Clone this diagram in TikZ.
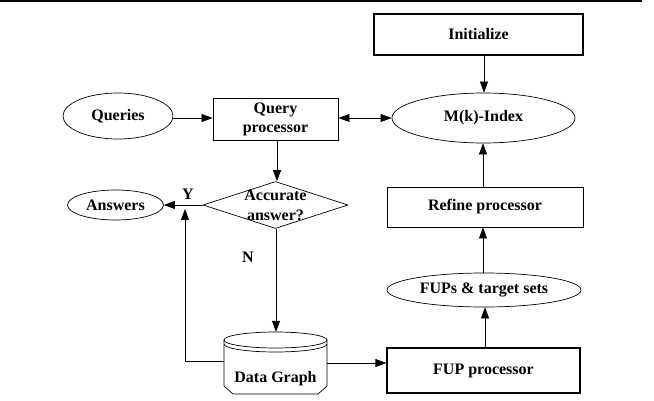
\documentclass[tikz,border=0pt]{standalone}
\usepackage{fontspec}
\setmainfont{Liberation Serif}
\usetikzlibrary{shapes.geometric,arrows.meta}
\begin{document}
\begin{tikzpicture}[x=1pt,y=1pt,
  every node/.style={font=\fontsize{16}{19}\selectfont\bfseries, inner sep=0pt},
  boxn/.style={draw, line width=0.9pt, rectangle},
  ovaln/.style={draw, line width=0.7pt, ellipse},
  arr/.style={line width=0.7pt, -{Triangle[length=11pt,width=8pt]}},
  darr/.style={line width=0.7pt, {Triangle[length=11pt,width=8pt]}-{Triangle[length=11pt,width=8pt]}},
  plain/.style={line width=0.7pt}]
\useasboundingbox (0,0) rectangle (654,400);
% top rule
\coordinate (tl) at (0,398.8);
\coordinate (tr) at (642,398.8);
\draw[line width=2pt] (tl) -- (tr);
% nodes
\node[boxn, line width=1.2pt, minimum width=209pt, minimum height=41pt] (init) at (478.5,365.5) {Initialize};
\node[ovaln, minimum width=183pt, minimum height=50pt] (mk) at (483.5,282) {M(k)-Index};
\node[ovaln, minimum width=110pt, minimum height=46pt] (queries) at (118,284) {Queries};
\node[boxn, minimum width=125pt, minimum height=42pt, align=center] (qp) at (275.5,281) {Query\\processor};
\node[draw, line width=0.7pt, diamond, minimum width=145pt, minimum height=47pt,
  label={[align=center, font=\fontsize{16}{20}\selectfont\bfseries]center:Accurate\\answer?}] (acc) at (275.5,195) {};
\node[ovaln, minimum width=96pt, minimum height=30pt] (ans) at (115.5,195) {Answers};
\node (ylab) at (188,206) {Y};
\node (nlab) at (248,143) {N};
\node[boxn, minimum width=196pt, minimum height=40pt] (refine) at (485,193) {Refine processor};
\node[ovaln, minimum width=194pt, minimum height=34pt] (fups) at (484,110) {FUPs \& target sets};
\node[boxn, line width=1.2pt, minimum width=193pt, minimum height=45pt] (fup) at (483.5,29.5) {FUP processor};
% data graph cylinder
\node[minimum width=103pt, minimum height=62pt] (dg) at (275.5,37) {};
\draw[plain] (224,60) -- (224,14) -- (233,6) -- (318,6) -- (327,14) -- (327,60);
\draw[plain] (275.5,60) ellipse[x radius=51.5pt, y radius=8pt];
\draw[plain] (224,56) arc[start angle=180, end angle=360, x radius=51.5pt, y radius=8pt];
\node (dgtext) at (275.5,21) {Data Graph};
% connectors
\draw[arr] (init.south -| 484,0) -- (mk.north -| 484,0);
\draw[arr] (queries.east |- 0,282) -- (qp.west |- 0,282);
\draw[darr] (qp.east |- 0,282) -- (mk.west |- 0,282);
\draw[arr] (qp.south -| 277,0) -- (acc.north -| 277,0);
\draw[arr] (acc.west) -- (ans.east);
\draw[arr] (acc.south -| 276,0) -- (dg.north -| 276,0);
\coordinate (yj) at (185,191);
\draw[arr] ([yshift=2pt]dg.west) -| (yj);
\draw[arr] ([yshift=0pt]dg.east) -- (fup.west |- dg.east);
\draw[arr] (fup.north -| 485,0) -- (fups.south -| 485,0);
\draw[arr] (fups.north -| 483,0) -- (refine.south -| 483,0);
\draw[arr] (refine.north -| 483,0) -- (mk.south -| 483,0);
\end{tikzpicture}
\end{document}
